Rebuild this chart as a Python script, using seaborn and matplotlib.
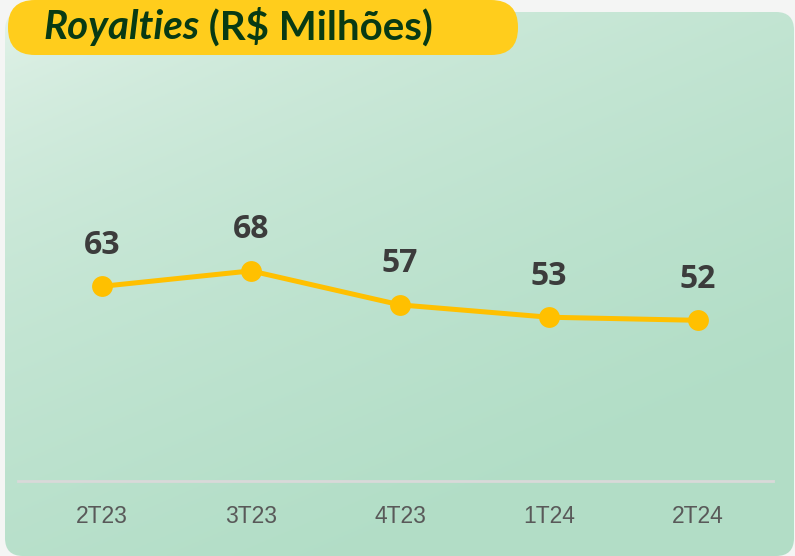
"""Royalties (R$ Milhões) por trimestre - linha com seaborn."""
import matplotlib
matplotlib.use('Agg')
import matplotlib.pyplot as plt
from matplotlib.patches import FancyBboxPatch
import numpy as np
import seaborn as sns

# dados do gráfico
quarters = ['2T23', '3T23', '4T23', '1T24', '2T24']
royalties = [63, 68, 57, 53, 52]

sns.set_style('white')
plt.rcParams['font.family'] = ['Open Sans', 'DejaVu Sans']

W, H = 795, 556
fig = plt.figure(figsize=(W / 100, H / 100), dpi=100)
fig.patch.set_facecolor('#f4f5f4')

# fundo em pixels (y para baixo)
bg = fig.add_axes([0, 0, 1, 1])
bg.set_xlim(0, W)
bg.set_ylim(H, 0)
bg.axis('off')

# painel verde arredondado com degradê
panel = FancyBboxPatch((5, 12), 789, 544, boxstyle='round,pad=0,rounding_size=18',
                       facecolor='none', edgecolor='none')
bg.add_patch(panel)
yy, xx = np.mgrid[0:1:200j, 0:1:300j]
t = np.clip(0.5 * xx + 0.8 * yy, 0, 1)
light = np.array([0.91, 0.96, 0.93])
dark = np.array([0.70, 0.87, 0.78])
grad = light + (dark - light) * t[..., None] ** 0.5
img = bg.imshow(grad, extent=[5, 794, 556, 12], aspect='auto', zorder=1)
img.set_clip_path(panel)

# pílula amarela do título
pill = FancyBboxPatch((8, 0), 510, 55, boxstyle='round,pad=0,rounding_size=27',
                      facecolor='#ffcd1c', edgecolor='none', zorder=3)
bg.add_patch(pill)
t1 = bg.text(43, 28, 'Royalties', fontsize=29, fontweight='bold', style='italic',
             family=['Lato', 'DejaVu Sans'], color='#083a14', va='center', zorder=4)
bg.annotate(' (R$ Milhões)', xy=(1, 0), xycoords=t1, fontsize=29, fontweight='bold',
            family=['Lato', 'DejaVu Sans'], color='#083a14', va='bottom', zorder=4)

# gráfico de linha
ax = fig.add_axes([18 / W, 1 - 481 / H, 755 / W, 381 / H])
ax.patch.set_alpha(0)
sns.lineplot(x=quarters, y=royalties, ax=ax, sort=False, color='#ffc000',
             linewidth=3.6, marker='o', markersize=15, markeredgewidth=0)
ax.set_xlim(-0.5638, 4.503)
ax.set_ylim(0, 123.3)
ax.set_yticks([])
ax.set(xlabel='', ylabel='')
for side in ['top', 'left', 'right']:
    ax.spines[side].set_visible(False)
ax.spines['bottom'].set_color('#d9d9d9')
ax.spines['bottom'].set_linewidth(2)
ax.tick_params(axis='x', length=0, pad=17, labelsize=16.5, labelcolor='#595959')
for label in ax.get_xticklabels():
    label.set_family(['Liberation Sans', 'DejaVu Sans'])

for i, value in enumerate(royalties):
    ax.annotate(f'{value}', (i, value), xytext=(0, 29.5), textcoords='offset points',
                ha='center', va='center', fontsize=23, fontweight='bold', color='#3c3c3c')

fig.savefig('out.png', dpi=100)
